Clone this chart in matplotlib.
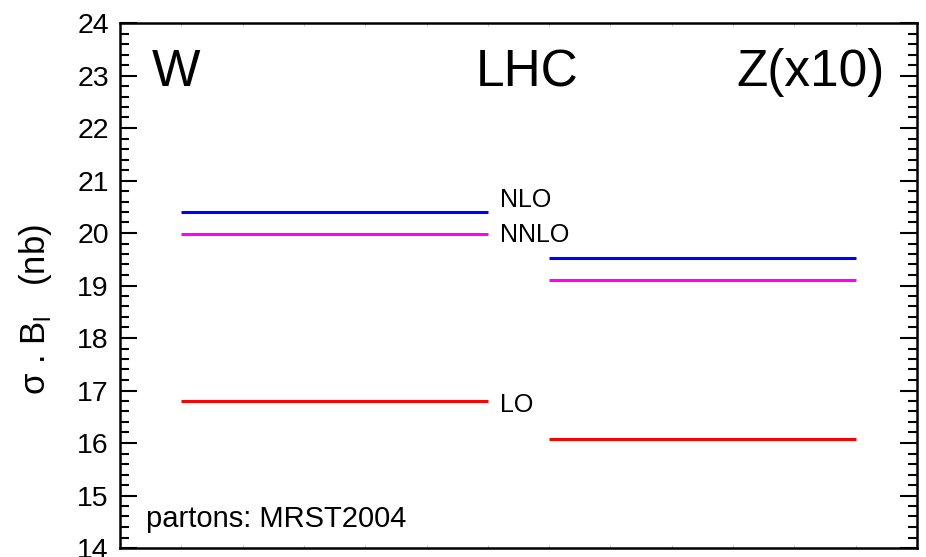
import matplotlib.pyplot as plt
from matplotlib.ticker import MultipleLocator

plt.rcParams['font.family'] = ['Liberation Sans', 'DejaVu Sans']

# cross sections (nb), W and Z(x10) at LHC
orders = ['NLO', 'NNLO', 'LO']
colors = ['#0000ff', '#ff00ff', '#ff0000']
w_xsec = [20.40, 19.98, 16.80]
z_xsec = [19.52, 19.10, 16.08]
w_span = [1, 6]
z_span = [7, 12]
label_y = [20.62, 19.96, 16.72]

fig = plt.figure(figsize=(9.26, 5.57), dpi=100)
ax = fig.add_axes([120/926, 1-548/557, 797/926, 525/557])

for name, c, w, z in zip(orders, colors, w_xsec, z_xsec):
    ax.plot(w_span, [w, w], color=c, lw=2.2, solid_capstyle='butt')
    ax.plot(z_span, [z, z], color=c, lw=2.2, solid_capstyle='butt')

for name, y in zip(orders, label_y):
    ax.text(6.2, y, name, fontsize=18, va='center', ha='left')

ax.set_xlim(0, 13)
ax.set_ylim(14, 24)
ax.yaxis.set_major_locator(MultipleLocator(1))
ax.yaxis.set_minor_locator(MultipleLocator(0.2))
ax.xaxis.set_major_locator(MultipleLocator(1))
ax.tick_params(axis='y', which='major', direction='in', length=12, width=1.5,
               labelsize=20.5, right=True, pad=8)
ax.tick_params(axis='y', which='minor', direction='in', length=6.5, width=1.5,
               right=True)
ax.tick_params(axis='x', which='major', direction='in', length=2, width=0.8,
               color='#cccccc', top=True, labelbottom=False)
for s in ax.spines.values():
    s.set_linewidth(1.8)

ax.text(0.04, 0.905, 'W', transform=ax.transAxes, fontsize=37, va='center')
ax.text(0.511, 0.905, 'LHC', transform=ax.transAxes, fontsize=37, va='center', ha='center')
ax.text(0.960, 0.905, 'Z(x10)', transform=ax.transAxes, fontsize=37, va='center', ha='right')
ax.text(0.032, 0.055, 'partons: MRST2004', transform=ax.transAxes, fontsize=21, va='center')

fig.text(36/926, 1-309/557, 'σ . B$_\\mathregular{l}$   (nb)', rotation=90,
         fontsize=25, va='center', ha='center')

fig.savefig('out.png', dpi=100)
